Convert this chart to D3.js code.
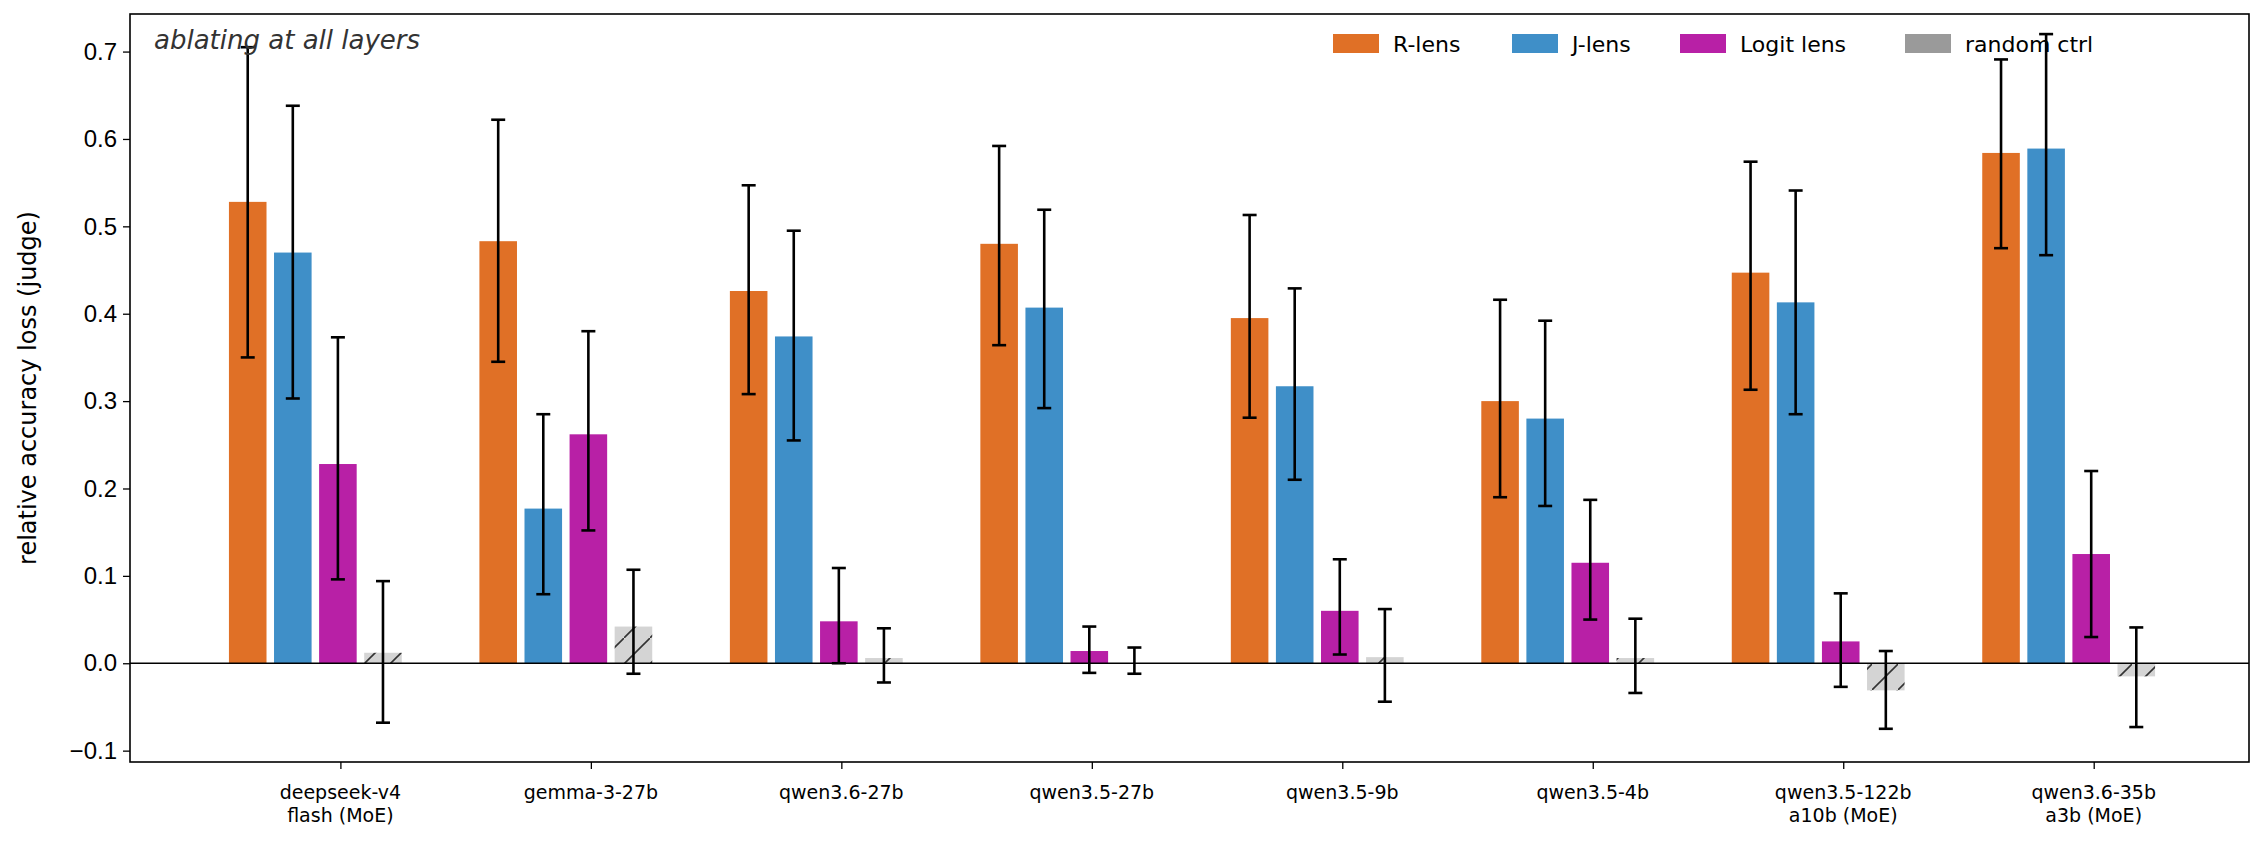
<!DOCTYPE html>
<html><head><meta charset="utf-8">
<script src="https://cdn.jsdelivr.net/npm/d3@7"></script>
<style>body{margin:0;background:#fff}svg{font-family:"DejaVu Sans",sans-serif}</style>
</head><body><svg id="chart" width="2267" height="842"></svg>
<script>
const models = ["deepseek-v4\nflash (MoE)", "gemma-3-27b", "qwen3.6-27b", "qwen3.5-27b", "qwen3.5-9b", "qwen3.5-4b", "qwen3.5-122b\na10b (MoE)", "qwen3.6-35b\na3b (MoE)"];
const seriesNames = ["R-lens", "J-lens", "Logit lens", "random ctrl"];
const rLens = [0.528, 0.483, 0.426, 0.480, 0.395, 0.300, 0.447, 0.584];
const rLo = [0.350, 0.345, 0.308, 0.364, 0.281, 0.190, 0.313, 0.475];
const rHi = [0.705, 0.622, 0.547, 0.592, 0.513, 0.416, 0.574, 0.691];
const jLens = [0.470, 0.177, 0.374, 0.407, 0.317, 0.280, 0.413, 0.589];
const jLo = [0.303, 0.079, 0.255, 0.292, 0.210, 0.180, 0.285, 0.467];
const jHi = [0.638, 0.285, 0.495, 0.519, 0.429, 0.392, 0.541, 0.720];
const logit = [0.228, 0.262, 0.048, 0.014, 0.060, 0.115, 0.025, 0.125];
const logitLo = [0.096, 0.152, 0.000, -0.011, 0.010, 0.050, -0.027, 0.030];
const logitHi = [0.373, 0.380, 0.109, 0.042, 0.119, 0.187, 0.080, 0.220];
const ctrl = [0.012, 0.042, 0.006, 0.000, 0.007, 0.006, -0.031, -0.015];
const ctrlLo = [-0.068, -0.012, -0.022, -0.012, -0.044, -0.034, -0.075, -0.073];
const ctrlHi = [0.094, 0.107, 0.040, 0.018, 0.062, 0.051, 0.014, 0.041];
const yTicks = [-0.1, 0.0, 0.1, 0.2, 0.3, 0.4, 0.5, 0.6, 0.7];

const colors = ["#e07026", "#3f8fc8", "#b820a6", "#d4d4d4"];
const offsets = [-0.37, -0.19, -0.01, 0.17];
const barW = 0.15;
const margin = {top: 14, right: 18, bottom: 80, left: 130};
const W = 2267, H = 842;
const pw = W - margin.left - margin.right, ph = H - margin.top - margin.bottom;

const svg = d3.select("#chart");
const defs = svg.append("defs");
const pat = defs.append("pattern").attr("id", "hatch").attr("patternUnits", "userSpaceOnUse")
    .attr("width", 26).attr("height", 26);
pat.append("rect").attr("width", 26).attr("height", 26).attr("fill", "#d4d4d4");
pat.append("path").attr("d", "M-2,28 L28,-2").attr("stroke", "#333").attr("stroke-width", 1.6);

const g = svg.append("g").attr("transform", "translate(" + margin.left + "," + margin.top + ")");
const x = d3.scaleLinear().domain([-0.84, 7.62]).range([0, pw]);
const y = d3.scaleLinear().domain([-0.113, 0.743]).range([ph, 0]);

g.append("clipPath").attr("id", "clip").append("rect").attr("width", pw).attr("height", ph);
const plot = g.append("g").attr("clip-path", "url(#clip)");

const series = [
    {v: rLens, lo: rLo, hi: rHi},
    {v: jLens, lo: jLo, hi: jHi},
    {v: logit, lo: logitLo, hi: logitHi},
    {v: ctrl, lo: ctrlLo, hi: ctrlHi}
];

series.forEach(function (s, k) {
    models.forEach(function (m, i) {
        const cx = i + offsets[k];
        plot.append("rect")
            .attr("x", x(cx - barW / 2))
            .attr("width", x(barW) - x(0))
            .attr("y", y(Math.max(0, s.v[i])))
            .attr("height", Math.abs(y(s.v[i]) - y(0)))
            .attr("fill", k === 3 ? "url(#hatch)" : colors[k]);
    });
});

plot.append("line").attr("x1", 0).attr("x2", pw).attr("y1", y(0)).attr("y2", y(0))
    .attr("stroke", "#000").attr("stroke-width", 1.5);

series.forEach(function (s, k) {
    models.forEach(function (m, i) {
        const px = x(i + offsets[k]);
        plot.append("line").attr("x1", px).attr("x2", px).attr("y1", y(s.lo[i])).attr("y2", y(s.hi[i]))
            .attr("stroke", "#000").attr("stroke-width", 2.6);
        [s.lo[i], s.hi[i]].forEach(function (e) {
            plot.append("line").attr("x1", px - 7).attr("x2", px + 7).attr("y1", y(e)).attr("y2", y(e))
                .attr("stroke", "#000").attr("stroke-width", 2.6);
        });
    });
});

// axes
const yAxis = g.append("g").call(d3.axisLeft(y).tickValues(yTicks).tickSize(7).tickPadding(6)
    .tickFormat(function (d) { return d < 0 ? "\u2212" + Math.abs(d).toFixed(1) : d.toFixed(1); }));
yAxis.selectAll("text").style("font-size", "24px").attr("fill", "#000");
yAxis.select(".domain").remove();

const xAxis = g.append("g").attr("transform", "translate(0," + ph + ")")
    .call(d3.axisBottom(x).tickValues(d3.range(models.length)).tickSize(7).tickFormat(""));
xAxis.select(".domain").remove();
xAxis.selectAll(".tick line").attr("stroke-width", 1.2);
models.forEach(function (m, i) {
    const t = g.append("text").attr("x", x(i)).attr("y", ph + 37).attr("text-anchor", "middle")
        .style("font-size", "19px");
    m.split("\n").forEach(function (line, j) {
        t.append("tspan").attr("x", x(i)).attr("dy", j === 0 ? 0 : 23).text(line);
    });
});
g.selectAll(".tick line").attr("stroke-width", 1.3);

g.append("rect").attr("width", pw).attr("height", ph).attr("fill", "none")
    .attr("stroke", "#000").attr("stroke-width", 1.6);

svg.append("text").attr("transform", "translate(28," + (margin.top + ph / 2) + ") rotate(-90)")
    .attr("text-anchor", "middle").attr("dy", "0.35em").style("font-size", "24px")
    .text("relative accuracy loss (judge)");

g.append("text").attr("x", 24).attr("y", 35).style("font-size", "26px").style("font-style", "italic")
    .attr("fill", "#333").text("ablating at all layers");

// legend
const legX = [1333, 1512, 1680, 1905];
const legColors = ["#e07026", "#3f8fc8", "#b820a6", "#9a9a9a"];
seriesNames.forEach(function (n, k) {
    const lg = g.append("g").attr("transform", "translate(" + (legX[k] - margin.left) + ",20)");
    lg.append("rect").attr("width", 46).attr("height", 19).attr("fill", legColors[k]);
    lg.append("text").attr("x", 60).attr("y", 10).attr("dy", "0.35em").style("font-size", "22px").text(n);
});
</script></body></html>
